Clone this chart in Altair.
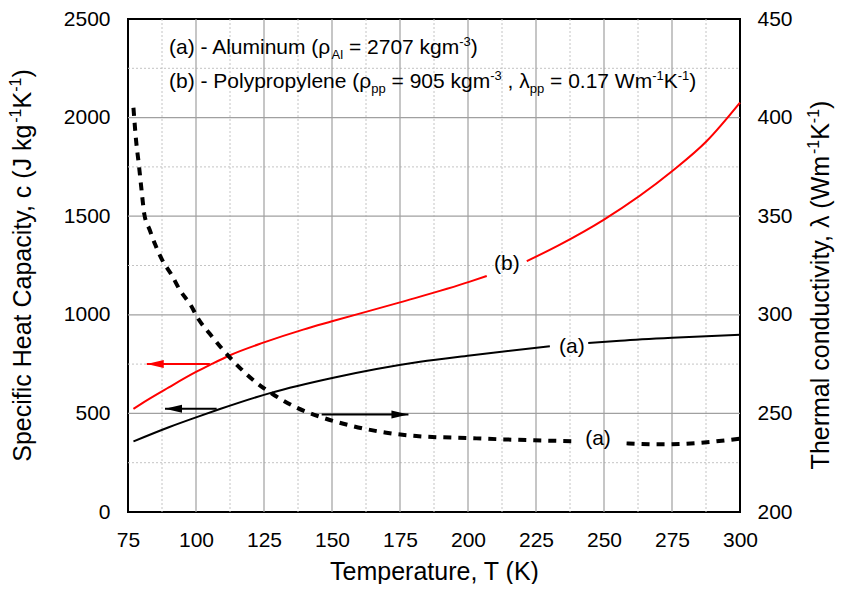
import altair as alt
import pandas as pd

# ---------------- data ----------------
# (b) Polypropylene specific heat, J/(kg K)  -- split where the "(b)" label sits
T_pp_1 = [77, 80, 90, 100, 105, 112.5, 125, 139.4, 150, 175, 200.7, 206.9]
c_pp_1 = [523, 550, 632, 710, 745, 795, 860, 925, 967, 1063, 1168, 1197]
T_pp_2 = [221.6, 233.8, 250, 275, 287.7, 300]
c_pp_2 = [1272, 1356, 1483, 1728, 1880, 2076]

# (a) Aluminum specific heat, J/(kg K)
T_al_1 = [77, 90, 100, 108.8, 127.2, 150.5, 182.4, 200.7, 230.1]
c_al_1 = [358, 430, 480, 522, 603, 681, 762, 794, 841]
T_al_2 = [244.2, 255.9, 275, 300]
c_al_2 = [857, 869, 884, 899]

# (a) Aluminum thermal conductivity, W/(m K)
T_k_1 = [77, 78, 79, 80, 81, 83, 85, 87.5, 91, 94, 98, 101, 105, 113.7, 122.3,
         128.4, 137, 145.6, 157.8, 170, 181, 200, 213.6, 238.7]
k_1 = [405, 388, 376, 363, 351, 343, 335.6, 328, 320.3, 312.7, 305, 297.6, 290.5,
       276.5, 265.5, 259.6, 252.9, 248.3, 243.5, 240.2, 238.5, 237.5, 236.8, 235.9]
T_k_2 = [258.3, 271.7, 285.3, 300]
k_2 = [234.8, 234.3, 235.1, 237.2]

# arrows (start, tip) pointing to the relevant axis
arrL_T_start = [105.1, 107.6]
arrL_T_tip = [81.9, 88.6]
arrL_c = [750, 524]
arrL_color = ["#ff0000", "#000000"]
arrR_T_start = [146.2]
arrR_T_tip = [178.1]
arrR_k = [249.5]

# curve labels
lblL_text = ["(b)", "(a)"]
lblL_T = [214.3, 238.2]
lblL_c = [1260, 839]
lblR_text = ["(a)"]
lblR_T = [247.8]
lblR_k = [236.8]

# axes / grid
x_ticks = [75, 100, 125, 150, 175, 200, 225, 250, 275, 300]
yl_ticks = [0, 500, 1000, 1500, 2000, 2500]
yr_ticks = [200, 250, 300, 350, 400, 450]
x_grid_major = [100, 125, 150, 175, 200, 225, 250, 275]
x_grid_minor = [87.5, 112.5, 137.5, 162.5, 187.5, 212.5, 237.5, 262.5, 287.5]
y_grid_major = [500, 1000, 1500, 2000]
y_grid_minor = [250, 750, 1250, 1750, 2250]

# ---------------- layout ----------------
W, H = 612, 493
X0, Y0 = 128, 19  # absolute top-left of plot area (page coords)
FONT = "Liberation Sans"

CW = {' ': .278, '(': .333, ')': .333, '-': .333, '=': .584, ',': .278, '.': .278,
      'A': .667, 'C': .722, 'H': .722, 'J': .5, 'K': .667, 'P': .667, 'S': .667,
      'T': .611, 'W': .944, 'a': .556, 'b': .556, 'c': .5, 'd': .556, 'e': .556,
      'f': .278, 'g': .556, 'h': .556, 'i': .222, 'k': .5, 'l': .222, 'm': .833,
      'n': .556, 'o': .556, 'p': .556, 'r': .333, 't': .278, 'u': .556, 'v': .5,
      'y': .5, 'ρ': .574, 'λ': .5}


def tw(s, fs):
    return sum(CW.get(ch, .556) for ch in s) * fs


def rich_text(parts, x, y, fs, fss, sub_dy, sup_dy, rotated=False):
    """Place a run of text pieces (normal / sub / sup) starting at page coords."""
    charts = []
    pos = 0.0
    for txt, kind in parts:
        size = fs if kind == "n" else fss
        shift = 0 if kind == "n" else (sub_dy if kind == "sub" else -sup_dy)
        lead = len(txt) - len(txt.lstrip(" "))
        body = txt.strip(" ")
        p = pos + tw(" " * lead, size)
        if body:
            if not rotated:
                px, py, ang = x + p, y + shift, 0
            else:
                px, py, ang = x + shift, y - p, 270
            charts.append(
                alt.Chart(pd.DataFrame({"t": [body]}))
                .mark_text(align="left", baseline="alphabetic", fontSize=size,
                           font=FONT, color="black", angle=ang)
                .encode(x=alt.value(px - X0), y=alt.value(py - Y0), text="t:N")
            )
        pos += tw(txt, size)
    return charts, pos


xs = alt.Scale(domain=[75, 300], nice=False, zero=False)
yls = alt.Scale(domain=[0, 2500], nice=False, zero=True)
yrs = alt.Scale(domain=[200, 450], nice=False, zero=False)
xax = alt.Axis(values=x_ticks, title="Temperature, T (K)", titleFontSize=25,
               titleFont=FONT, titleFontWeight="normal", titleColor="black",
               titleBaseline="alphabetic", titleY=67, labelPadding=17,
               labelFlush=False, format="d")
ylax = alt.Axis(values=yl_ticks, title=None, orient="left", labelPadding=18,
                labelFlush=False, format="d")
yrax = alt.Axis(values=yr_ticks, title=None, orient="right", labelPadding=17,
                labelFlush=False, format="d")

X = lambda f="T": alt.X(f + ":Q", scale=xs, axis=xax)
YL = lambda f="c": alt.Y(f + ":Q", scale=yls, axis=ylax)
YR = lambda f="k": alt.Y(f + ":Q", scale=yrs, axis=yrax)

# grid
gx_major = alt.Chart(pd.DataFrame({"T": x_grid_major})).mark_rule(
    color="#a0a0a0", strokeWidth=1.2).encode(x=X(), y=alt.value(0), y2=alt.value(H))
gx_minor = alt.Chart(pd.DataFrame({"T": x_grid_minor})).mark_rule(
    color="#c4c4c4", strokeWidth=1, strokeDash=[2, 2]).encode(x=X(), y=alt.value(0), y2=alt.value(H))
gy_major = alt.Chart(pd.DataFrame({"c": y_grid_major})).mark_rule(
    color="#a0a0a0", strokeWidth=1.2).encode(y=YL(), x=alt.value(0), x2=alt.value(W))
gy_minor = alt.Chart(pd.DataFrame({"c": y_grid_minor})).mark_rule(
    color="#c4c4c4", strokeWidth=1, strokeDash=[2, 2]).encode(y=YL(), x=alt.value(0), x2=alt.value(W))


def seg_df(Ts, Vs, col):
    rows = []
    for i, (tt, vv) in enumerate(zip(Ts, Vs)):
        for a, b in zip(tt, vv):
            rows.append({"T": a, col: b, "seg": i})
    return pd.DataFrame(rows)


pp_df = seg_df([T_pp_1, T_pp_2], [c_pp_1, c_pp_2], "c")
al_df = seg_df([T_al_1, T_al_2], [c_al_1, c_al_2], "c")
k_df = seg_df([T_k_1, T_k_2], [k_1, k_2], "k")

pp_line = alt.Chart(pp_df).mark_line(color="#ff0000", strokeWidth=2,
                                     interpolate="monotone").encode(
    x=X(), y=YL(), detail="seg:N")
al_line = alt.Chart(al_df).mark_line(color="black", strokeWidth=2,
                                     interpolate="monotone").encode(
    x=X(), y=YL(), detail="seg:N")
k_line = alt.Chart(k_df).mark_line(color="black", strokeWidth=4, strokeDash=[8, 7],
                                   interpolate="monotone").encode(
    x=X(), y=YR(), detail="seg:N")

LEFT_HEAD = "M0,0L2,-0.47L2,0.47Z"
RIGHT_HEAD = "M0,0L-2,-0.47L-2,0.47Z"

arr_df = pd.DataFrame({"T": arrL_T_start, "T2": arrL_T_tip, "c": arrL_c, "col": arrL_color})
arrL_rule = alt.Chart(arr_df).mark_rule(strokeWidth=2).encode(
    x=X(), x2="T2:Q", y=YL(), color=alt.Color("col:N", scale=None))
arrL_head = alt.Chart(arr_df).mark_point(shape=LEFT_HEAD, filled=True, size=289,
                                         opacity=1, strokeWidth=0).encode(
    x=X("T2"), y=YL(), fill=alt.Fill("col:N", scale=None))

arrR_df = pd.DataFrame({"T": arrR_T_start, "T2": arrR_T_tip, "k": arrR_k})
arrR_rule = alt.Chart(arrR_df).mark_rule(strokeWidth=2, color="black").encode(
    x=X(), x2="T2:Q", y=YR())
arrR_head = alt.Chart(arrR_df).mark_point(shape=RIGHT_HEAD, filled=True, size=289,
                                          opacity=1, strokeWidth=0, fill="black").encode(
    x=X("T2"), y=YR())

lblL = alt.Chart(pd.DataFrame({"T": lblL_T, "c": lblL_c, "t": lblL_text})).mark_text(
    fontSize=21, font=FONT, color="black", align="center", baseline="middle").encode(
    x=X(), y=YL(), text="t:N")
lblR = alt.Chart(pd.DataFrame({"T": lblR_T, "k": lblR_k, "t": lblR_text})).mark_text(
    fontSize=21, font=FONT, color="black", align="center", baseline="middle").encode(
    x=X(), y=YR(), text="t:N")

# legend text (two lines with sub/superscripts)
leg1, _ = rich_text([("(a) - Aluminum (ρ", "n"), ("Al", "sub"), (" = 2707 kgm", "n"),
                     ("-3", "sup"), (")", "n")], 169, 54, 21, 13, 5, 8)
leg2, _ = rich_text([("(b) - Polypropylene (ρ", "n"), ("pp", "sub"), (" = 905 kgm", "n"),
                     ("-3", "sup"), (" , λ", "n"), ("pp", "sub"), (" = 0.17 Wm", "n"),
                     ("-1", "sup"), ("K", "n"), ("-1", "sup"), (")", "n")],
                    169, 88, 21, 13, 5, 8)

# rotated axis titles
lt_parts = [("Specific Heat Capacity, c (J kg", "n"), ("-1", "sup"), ("K", "n"),
            ("-1", "sup"), (")", "n")]
rt_parts = [("Thermal conductivity, λ (Wm", "n"), ("-1", "sup"), ("K", "n"),
            ("-1", "sup"), (")", "n")]
_, lt_len = rich_text(lt_parts, 0, 0, 25, 16, 6, 10, rotated=True)
_, rt_len = rich_text(rt_parts, 0, 0, 25, 16, 6, 10, rotated=True)
lt, _ = rich_text(lt_parts, 31, 265.5 + lt_len / 2, 25, 16, 6, 10, rotated=True)
rt, _ = rich_text(rt_parts, 829, 285 + rt_len / 2, 25, 16, 6, 10, rotated=True)

left = alt.layer(gx_minor, gy_minor, gx_major, gy_major, pp_line, al_line,
                 arrL_rule, arrL_head, lblL, *leg1, *leg2, *lt, *rt)
right = alt.layer(k_line, arrR_rule, arrR_head, lblR)

chart = (
    alt.layer(left, right)
    .resolve_scale(y="independent")
    .properties(width=W, height=H,
                padding={"left": 120, "top": 11, "right": 95, "bottom": 72},
                autosize=alt.AutoSizeParams(type="none"))
    .configure_view(stroke="black", strokeWidth=2)
    .configure_axis(labelFont=FONT, labelFontSize=21, labelColor="black",
                    ticks=False, domain=False, grid=False)
)

chart.save("out.html", embed_options={"renderer": "svg", "actions": False})
